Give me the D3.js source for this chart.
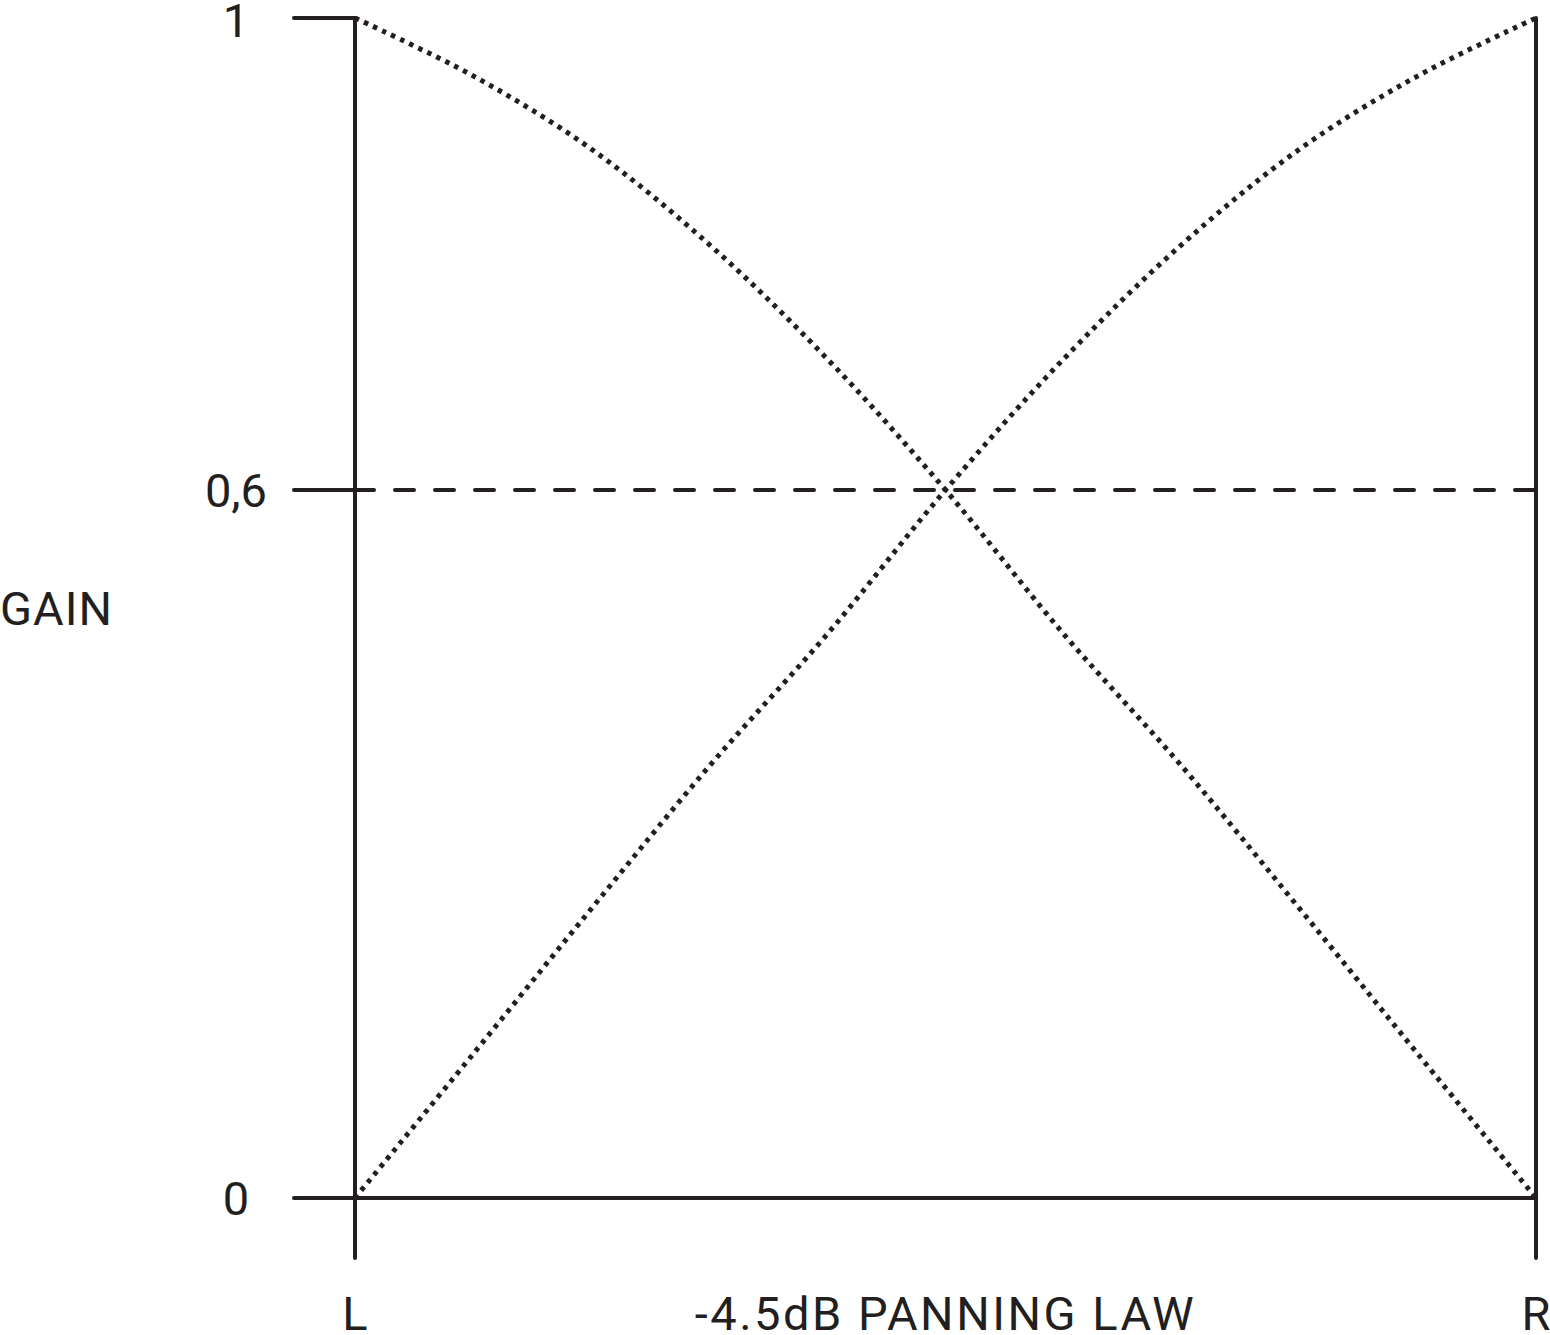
<!DOCTYPE html>
<html>
<head>
<meta charset="utf-8">
<script src="https://cdn.jsdelivr.net/npm/d3@7"></script>
<style>
  html, body { margin: 0; padding: 0; background: #ffffff; }
  svg { display: block; }
  text { font-family: Roboto, "Noto Sans", sans-serif; fill: #231f20; }
</style>
</head>
<body>
<svg id="chart" width="1550" height="1335"></svg>
<script>
// ---- data ----
const panPositions = [0, 0.1, 0.2, 0.3, 0.4, 0.5, 0.6, 0.7, 0.8, 0.9, 1.0];
const leftGain  = [1.0, 0.951, 0.889, 0.808, 0.711, 0.600, 0.478, 0.366, 0.245, 0.122, 0.0];
const rightGain = [0.0, 0.122, 0.245, 0.366, 0.478, 0.600, 0.711, 0.808, 0.889, 0.951, 1.0];
const yTicks = [0, 0.6, 1];
const yTickLabels = ["0", "0,6", "1"];
const xEndLabels = ["L", "R"];
const referenceGain = 0.6;
const yTitle = "GAIN";
const xTitle = "-4.5dB PANNING LAW";

// ---- layout ----
const ink = "#231f20";
const svg = d3.select("#chart");
const x = d3.scaleLinear().domain([0, 1]).range([355, 1536]);
const y = d3.scaleLinear().domain([0, 1]).range([1198, 18]);
const tickLeft = 294;
const axisBottom = 1258;
const fontSize = 47;

// vertical axes at L and R
svg.selectAll("line.vaxis").data([0, 1]).join("line")
  .attr("class", "vaxis")
  .attr("x1", d => x(d)).attr("x2", d => x(d))
  .attr("y1", y(1)).attr("y2", axisBottom)
  .attr("stroke", ink).attr("stroke-width", 4).attr("stroke-linecap", "round");

// y ticks (solid, left of axis)
svg.selectAll("line.ytick").data(yTicks).join("line")
  .attr("class", "ytick")
  .attr("x1", tickLeft).attr("x2", x(0))
  .attr("y1", d => y(d)).attr("y2", d => y(d))
  .attr("stroke", ink).attr("stroke-width", 4).attr("stroke-linecap", "round");

// zero baseline across
svg.append("line")
  .attr("x1", x(0)).attr("x2", x(1))
  .attr("y1", y(0)).attr("y2", y(0))
  .attr("stroke", ink).attr("stroke-width", 4).attr("stroke-linecap", "round");

// dashed reference at 0.6
svg.append("line")
  .attr("x1", x(0)).attr("x2", x(1))
  .attr("y1", y(referenceGain)).attr("y2", y(referenceGain))
  .attr("stroke", ink).attr("stroke-width", 4)
  .attr("stroke-linecap", "round")
  .attr("stroke-dasharray", "19,21");

// curves (dotted)
const line = d3.line()
  .x((d, i) => x(panPositions[i]))
  .y(d => y(d))
  .curve(d3.curveCatmullRom.alpha(0.5));

[leftGain, rightGain].forEach(series => {
  svg.append("path")
    .attr("d", line(series))
    .attr("fill", "none")
    .attr("stroke", ink)
    .attr("stroke-width", 5)
    .attr("stroke-dasharray", "4.5,5.5");
});

// y tick labels
svg.selectAll("text.ylab").data(yTicks).join("text")
  .attr("class", "ylab")
  .attr("x", 236)
  .attr("y", d => Math.max(y(d), 20) + fontSize * 0.355)
  .attr("text-anchor", "middle")
  .attr("font-size", fontSize)
  .text((d, i) => yTickLabels[i]);

// y title
svg.append("text")
  .attr("x", 0).attr("y", 608 + fontSize * 0.355)
  .attr("font-size", fontSize)
  .attr("letter-spacing", 1)
  .text(yTitle);

// x end labels
svg.selectAll("text.xlab").data([0, 1]).join("text")
  .attr("class", "xlab")
  .attr("x", d => x(d)).attr("y", 1330)
  .attr("text-anchor", "middle")
  .attr("font-size", fontSize)
  .text((d, i) => xEndLabels[i]);

// x title
svg.append("text")
  .attr("x", x(0.5)).attr("y", 1330)
  .attr("text-anchor", "middle")
  .attr("font-size", fontSize)
  .attr("letter-spacing", 2.5)
  .text(xTitle);
</script>
</body>
</html>
